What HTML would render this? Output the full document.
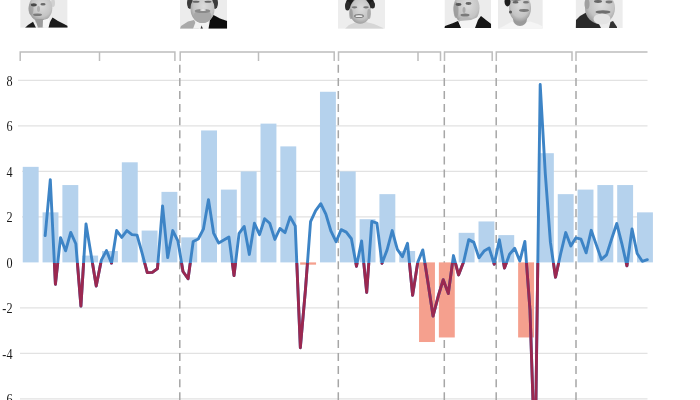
<!DOCTYPE html>
<html><head><meta charset="utf-8"><style>
html,body{margin:0;padding:0;background:#fff;}
body{width:700px;height:400px;overflow:hidden;position:relative;font-family:"Liberation Sans",sans-serif;}
svg{position:absolute;left:0;top:0;filter:blur(0.4px);}
</style></head><body>
<svg width="700" height="400" viewBox="0 0 700 400">
<defs>
<clipPath id="above"><rect x="0" y="0" width="700" height="262.40"/></clipPath>
<clipPath id="below"><rect x="0" y="262.90" width="700" height="137.60"/></clipPath>
</defs>

<line x1="18" x2="647.5" y1="80.40" y2="80.40" stroke="#e2e2e2" stroke-width="1.1"/>
<line x1="18" x2="647.5" y1="125.90" y2="125.90" stroke="#e2e2e2" stroke-width="1.1"/>
<line x1="22" x2="647.5" y1="171.40" y2="171.40" stroke="#e2e2e2" stroke-width="1.1"/>
<line x1="22" x2="647.5" y1="216.90" y2="216.90" stroke="#e2e2e2" stroke-width="1.1"/>
<line x1="20" x2="647.5" y1="307.90" y2="307.90" stroke="#e2e2e2" stroke-width="1.1"/>
<line x1="20" x2="647.5" y1="353.40" y2="353.40" stroke="#e2e2e2" stroke-width="1.1"/>
<line x1="20" x2="647.5" y1="398.90" y2="398.90" stroke="#e2e2e2" stroke-width="1.1"/>
<text transform="translate(12.5 85.90) scale(0.87 1)" text-anchor="end" font-size="14" fill="#1a1a1a" font-family="Liberation Serif, serif">8</text>
<text transform="translate(12.5 131.40) scale(0.87 1)" text-anchor="end" font-size="14" fill="#1a1a1a" font-family="Liberation Serif, serif">6</text>
<text transform="translate(12.5 176.90) scale(0.87 1)" text-anchor="end" font-size="14" fill="#1a1a1a" font-family="Liberation Serif, serif">4</text>
<text transform="translate(12.5 222.40) scale(0.87 1)" text-anchor="end" font-size="14" fill="#1a1a1a" font-family="Liberation Serif, serif">2</text>
<text transform="translate(12.5 267.90) scale(0.87 1)" text-anchor="end" font-size="14" fill="#1a1a1a" font-family="Liberation Serif, serif">0</text>
<text transform="translate(12.5 313.40) scale(0.87 1)" text-anchor="end" font-size="14" fill="#1a1a1a" font-family="Liberation Serif, serif">-2</text>
<text transform="translate(12.5 358.90) scale(0.87 1)" text-anchor="end" font-size="14" fill="#1a1a1a" font-family="Liberation Serif, serif">-4</text>
<text transform="translate(12.5 404.40) scale(0.87 1)" text-anchor="end" font-size="14" fill="#1a1a1a" font-family="Liberation Serif, serif">-6</text>
<line x1="179.8" x2="179.8" y1="64.8" y2="400" stroke="#a6a6a6" stroke-width="1.5" stroke-dasharray="8 5.1"/>
<line x1="338.3" x2="338.3" y1="64.8" y2="400" stroke="#a6a6a6" stroke-width="1.5" stroke-dasharray="8 5.1"/>
<line x1="444.3" x2="444.3" y1="64.8" y2="400" stroke="#a6a6a6" stroke-width="1.5" stroke-dasharray="8 5.1"/>
<line x1="496.2" x2="496.2" y1="64.8" y2="400" stroke="#a6a6a6" stroke-width="1.5" stroke-dasharray="8 5.1"/>
<line x1="576.0" x2="576.0" y1="64.8" y2="400" stroke="#a6a6a6" stroke-width="1.5" stroke-dasharray="8 5.1"/>
<rect x="22.75" y="166.85" width="15.90" height="95.55" fill="#b5d2ed"/>
<rect x="42.56" y="212.35" width="15.90" height="50.05" fill="#b5d2ed"/>
<rect x="62.38" y="185.05" width="15.90" height="77.35" fill="#b5d2ed"/>
<rect x="82.20" y="255.57" width="15.90" height="6.82" fill="#b5d2ed"/>
<rect x="102.01" y="251.02" width="15.90" height="11.38" fill="#b5d2ed"/>
<rect x="121.83" y="162.30" width="15.90" height="100.10" fill="#b5d2ed"/>
<rect x="141.64" y="230.55" width="15.90" height="31.85" fill="#b5d2ed"/>
<rect x="161.46" y="191.87" width="15.90" height="70.53" fill="#b5d2ed"/>
<rect x="181.27" y="237.37" width="15.90" height="25.03" fill="#b5d2ed"/>
<rect x="201.09" y="130.45" width="15.90" height="131.95" fill="#b5d2ed"/>
<rect x="220.90" y="189.60" width="15.90" height="72.80" fill="#b5d2ed"/>
<rect x="240.72" y="171.40" width="15.90" height="91.00" fill="#b5d2ed"/>
<rect x="260.53" y="123.62" width="15.90" height="138.78" fill="#b5d2ed"/>
<rect x="280.35" y="146.38" width="15.90" height="116.02" fill="#b5d2ed"/>
<rect x="300.16" y="262.40" width="15.90" height="2.27" fill="#f5a08e"/>
<rect x="319.98" y="91.77" width="15.90" height="170.62" fill="#b5d2ed"/>
<rect x="339.79" y="171.40" width="15.90" height="91.00" fill="#b5d2ed"/>
<rect x="359.61" y="219.17" width="15.90" height="43.22" fill="#b5d2ed"/>
<rect x="379.42" y="194.15" width="15.90" height="68.25" fill="#b5d2ed"/>
<rect x="399.24" y="251.02" width="15.90" height="11.38" fill="#b5d2ed"/>
<rect x="419.05" y="262.40" width="15.90" height="79.62" fill="#f5a08e"/>
<rect x="438.87" y="262.40" width="15.90" height="75.07" fill="#f5a08e"/>
<rect x="458.68" y="232.82" width="15.90" height="29.57" fill="#b5d2ed"/>
<rect x="478.50" y="221.45" width="15.90" height="40.95" fill="#b5d2ed"/>
<rect x="498.31" y="235.10" width="15.90" height="27.30" fill="#b5d2ed"/>
<rect x="518.12" y="262.40" width="15.90" height="75.07" fill="#f5a08e"/>
<rect x="537.94" y="153.20" width="15.90" height="109.20" fill="#b5d2ed"/>
<rect x="557.75" y="194.15" width="15.90" height="68.25" fill="#b5d2ed"/>
<rect x="577.57" y="189.60" width="15.90" height="72.80" fill="#b5d2ed"/>
<rect x="597.38" y="185.05" width="15.90" height="77.35" fill="#b5d2ed"/>
<rect x="617.20" y="185.05" width="15.90" height="77.35" fill="#b5d2ed"/>
<rect x="637.01" y="212.35" width="15.90" height="50.05" fill="#b5d2ed"/>
<path d="M20.2,61 L20.2,52 L174.9,52 L174.9,61" fill="none" stroke="#bdbdbd" stroke-width="1.5"/><line x1="99.5" x2="99.5" y1="52" y2="61" stroke="#bdbdbd" stroke-width="1.5"/>
<path d="M180.2,61 L180.2,52 L334.2,52 L334.2,61" fill="none" stroke="#bdbdbd" stroke-width="1.5"/><line x1="258.5" x2="258.5" y1="52" y2="61" stroke="#bdbdbd" stroke-width="1.5"/>
<path d="M338.5,61 L338.5,52 L440.5,52 L440.5,61" fill="none" stroke="#bdbdbd" stroke-width="1.5"/><line x1="418.0" x2="418.0" y1="52" y2="61" stroke="#bdbdbd" stroke-width="1.5"/>
<path d="M444.5,61 L444.5,52 L492.2,52 L492.2,61" fill="none" stroke="#bdbdbd" stroke-width="1.5"/>
<path d="M496.3,61 L496.3,52 L572.0,52 L572.0,61" fill="none" stroke="#bdbdbd" stroke-width="1.5"/>
<path d="M576.0,61 L576.0,52 L647.5,52" fill="none" stroke="#bdbdbd" stroke-width="1.5"/>
<polyline points="45.20,235.55 50.30,179.59 55.41,284.24 60.51,237.60 65.61,250.80 70.72,232.37 75.82,243.74 80.92,306.08 86.02,223.95 91.13,254.89 96.23,286.06 101.33,260.12 106.44,250.57 111.54,263.08 116.64,230.55 121.75,237.37 126.85,230.55 131.95,234.64 137.05,235.10 142.16,253.30 147.26,272.64 152.36,272.41 157.47,268.54 162.57,205.98 167.67,257.62 172.77,230.55 177.88,240.79 182.98,271.50 188.08,278.78 193.19,241.47 198.29,238.97 203.39,229.18 208.50,199.61 213.60,233.05 218.70,243.06 223.81,240.10 228.91,236.92 234.01,275.59 239.11,233.28 244.22,226.45 249.32,254.44 254.42,223.27 259.53,234.64 264.63,218.72 269.73,223.27 274.83,239.42 279.94,228.50 285.04,232.60 290.14,216.90 295.25,226.00 300.35,347.71 305.45,289.70 310.56,221.68 315.66,210.53 320.76,203.70 325.86,214.17 330.97,231.23 336.07,241.70 341.17,229.64 346.28,232.14 351.38,238.74 356.48,266.27 361.59,241.01 366.69,292.43 371.79,221.45 376.89,223.04 382.00,263.31 387.10,249.89 392.20,230.55 397.31,249.43 402.41,256.71 407.51,243.29 412.62,295.39 417.72,262.40 422.82,249.89 427.92,282.19 433.03,316.09 438.13,296.52 443.23,279.69 448.34,293.57 453.44,255.57 458.54,274.91 463.65,261.72 468.75,239.65 473.85,242.38 478.95,257.85 484.06,251.02 489.16,248.07 494.26,264.22 499.37,239.65 504.47,268.09 509.57,254.21 514.68,248.29 519.78,261.03 524.88,241.47 529.99,310.17 535.09,464.88 540.19,84.49 545.29,173.67 550.40,242.15 555.50,277.19 560.60,253.98 565.71,232.60 570.81,246.02 575.91,237.83 581.01,239.19 586.12,252.84 591.22,230.32 596.32,244.88 601.43,259.44 606.53,254.89 611.63,238.97 616.74,223.50 621.84,243.52 626.94,265.81 632.05,228.96 637.15,253.53 642.25,261.26 647.35,259.67" fill="none" stroke="#3d84c6" stroke-width="2.9" stroke-linejoin="round" stroke-linecap="round"/>
<polyline points="45.20,235.55 50.30,179.59 55.41,284.24 60.51,237.60 65.61,250.80 70.72,232.37 75.82,243.74 80.92,306.08 86.02,223.95 91.13,254.89 96.23,286.06 101.33,260.12 106.44,250.57 111.54,263.08 116.64,230.55 121.75,237.37 126.85,230.55 131.95,234.64 137.05,235.10 142.16,253.30 147.26,272.64 152.36,272.41 157.47,268.54 162.57,205.98 167.67,257.62 172.77,230.55 177.88,240.79 182.98,271.50 188.08,278.78 193.19,241.47 198.29,238.97 203.39,229.18 208.50,199.61 213.60,233.05 218.70,243.06 223.81,240.10 228.91,236.92 234.01,275.59 239.11,233.28 244.22,226.45 249.32,254.44 254.42,223.27 259.53,234.64 264.63,218.72 269.73,223.27 274.83,239.42 279.94,228.50 285.04,232.60 290.14,216.90 295.25,226.00 300.35,347.71 305.45,289.70 310.56,221.68 315.66,210.53 320.76,203.70 325.86,214.17 330.97,231.23 336.07,241.70 341.17,229.64 346.28,232.14 351.38,238.74 356.48,266.27 361.59,241.01 366.69,292.43 371.79,221.45 376.89,223.04 382.00,263.31 387.10,249.89 392.20,230.55 397.31,249.43 402.41,256.71 407.51,243.29 412.62,295.39 417.72,262.40 422.82,249.89 427.92,282.19 433.03,316.09 438.13,296.52 443.23,279.69 448.34,293.57 453.44,255.57 458.54,274.91 463.65,261.72 468.75,239.65 473.85,242.38 478.95,257.85 484.06,251.02 489.16,248.07 494.26,264.22 499.37,239.65 504.47,268.09 509.57,254.21 514.68,248.29 519.78,261.03 524.88,241.47 529.99,310.17 535.09,464.88 540.19,84.49 545.29,173.67 550.40,242.15 555.50,277.19 560.60,253.98 565.71,232.60 570.81,246.02 575.91,237.83 581.01,239.19 586.12,252.84 591.22,230.32 596.32,244.88 601.43,259.44 606.53,254.89 611.63,238.97 616.74,223.50 621.84,243.52 626.94,265.81 632.05,228.96 637.15,253.53 642.25,261.26 647.35,259.67" fill="none" stroke="#9b2850" stroke-width="2.9" stroke-linejoin="round" stroke-linecap="round" clip-path="url(#below)"/>
<filter id="bl" x="-10%" y="-10%" width="120%" height="120%"><feGaussianBlur stdDeviation="0.7"/></filter>
<radialGradient id="face" cx="0.55" cy="0.4" r="0.6"><stop offset="0" stop-color="#dcdcdc"/><stop offset="0.7" stop-color="#c4c4c4"/><stop offset="1" stop-color="#9e9e9e"/></radialGradient>
<radialGradient id="faceD" cx="0.5" cy="0.4" r="0.6"><stop offset="0" stop-color="#dadada"/><stop offset="0.7" stop-color="#c4c4c4"/><stop offset="1" stop-color="#9c9c9c"/></radialGradient>
<clipPath id="c1"><rect x="20.2" y="0" width="47.4" height="27.8"/></clipPath>
<g clip-path="url(#c1)"><rect x="20.2" y="0" width="47.4" height="27.8" fill="#ebebeb"/>
<g filter="url(#bl)">
<ellipse cx="53" cy="3" rx="2" ry="4" fill="#d0d0d0"/>
<ellipse cx="40.5" cy="15" rx="6" ry="9" fill="#a0a0a0"/>
<ellipse cx="40.5" cy="8" rx="11.8" ry="13.5" fill="url(#face)"/>
<ellipse cx="31" cy="9" rx="2.5" ry="6" fill="#9a9a9a" opacity="0.7"/>
<ellipse cx="33.8" cy="4.8" rx="3" ry="1.6" fill="#4a4a4a"/>
<ellipse cx="43" cy="4.2" rx="2.6" ry="1.2" fill="#6a6a6a"/>
<ellipse cx="38.5" cy="9" rx="1.5" ry="3" fill="#b0b0b0"/>
<ellipse cx="37.5" cy="14.8" rx="4.5" ry="1.3" fill="#7a7a7a"/>
<polygon points="35,19 44,19 43.5,27.8 37,27.8" fill="#9c9c9c"/>
<polygon points="42.7,27.8 43,20 49,18.5 50,27.8" fill="#f6f6f6"/>
<polygon points="34,27.8 36,22 38,27.8" fill="#f0f0f0"/>
<polygon points="25,27.8 28,25 33,21.7 36,27.8" fill="#1e1e1e"/>
<polygon points="48.5,27.8 50,22 52.5,17.6 58,21 64,24 67.8,26 67.8,27.8" fill="#1a1a1a"/>
</g></g>
<clipPath id="c2"><rect x="180" y="0" width="47.2" height="28.8"/></clipPath>
<g clip-path="url(#c2)"><rect x="180" y="0" width="47.2" height="28.8" fill="#ececec"/>
<g filter="url(#bl)">
<polygon points="180,28.8 181,26 188,21.5 194,20 199,28.8" fill="#a9a9a9"/>
<polygon points="193,28.8 196,21 207,20 210,28.8" fill="#f2f2f2"/>
<polygon points="200.5,28.8 201.5,25.5 203,28.8" fill="#333"/>
<polygon points="208.5,28.8 210,20 213.5,15 220,18.5 227.2,21 227.2,28.8" fill="#111"/>
<ellipse cx="190" cy="3" rx="3" ry="6" fill="#3a3a3a"/>
<ellipse cx="215" cy="3" rx="3" ry="6" fill="#3a3a3a"/>
<ellipse cx="202.5" cy="9" rx="12" ry="14" fill="url(#face)"/>
<ellipse cx="202.5" cy="16" rx="9" ry="7" fill="#a8a8a8"/>
<ellipse cx="202.5" cy="11" rx="8" ry="2" fill="#8a8a8a"/>
<ellipse cx="203" cy="10" rx="3" ry="1" fill="#e8e8e8"/>
<ellipse cx="196" cy="1.8" rx="3.5" ry="1" fill="#666"/>
<ellipse cx="208" cy="1.8" rx="3.5" ry="1" fill="#666"/>
</g></g>
<clipPath id="c3"><rect x="338" y="0" width="47.2" height="28.8"/></clipPath>
<g clip-path="url(#c3)"><rect x="338" y="0" width="47.2" height="28.8" fill="#ededed"/>
<g filter="url(#bl)">
<polygon points="345,28.8 349,25 356,22 366,22 374,24 382,27.5 384,28.8" fill="#d6d6d6"/>
<ellipse cx="360" cy="3" rx="14" ry="8" fill="#1e1e1e"/>
<ellipse cx="347.5" cy="6" rx="2.5" ry="4.5" fill="#2a2a2a"/>
<ellipse cx="372.5" cy="5" rx="2.5" ry="3.5" fill="#2a2a2a"/>
<ellipse cx="360.2" cy="11" rx="10.6" ry="12.8" fill="url(#face)"/>
<ellipse cx="354.5" cy="7.3" rx="2.8" ry="1.1" fill="#777"/>
<ellipse cx="366" cy="7.3" rx="2.8" ry="1.1" fill="#777"/>
<ellipse cx="359" cy="16" rx="5" ry="2" fill="#808080"/>
<ellipse cx="359" cy="16.2" rx="3.5" ry="0.9" fill="#eeeeee"/>
<ellipse cx="351" cy="14" rx="1.8" ry="5" fill="#9a9a9a" opacity="0.8"/>
<ellipse cx="369" cy="14" rx="1.8" ry="5" fill="#a5a5a5" opacity="0.8"/>
</g></g>
<clipPath id="c4"><rect x="444.5" y="0" width="46.7" height="28"/></clipPath>
<g clip-path="url(#c4)"><rect x="444.5" y="0" width="46.7" height="28" fill="#ececec"/>
<g filter="url(#bl)">
<ellipse cx="466.5" cy="8" rx="13" ry="16" fill="url(#face)"/>
<ellipse cx="456" cy="10" rx="2.5" ry="8" fill="#9a9a9a" opacity="0.8"/>
<ellipse cx="458.5" cy="4.5" rx="3" ry="1.4" fill="#555"/>
<ellipse cx="468.5" cy="3.5" rx="3" ry="1.4" fill="#666"/>
<ellipse cx="464" cy="10" rx="1.5" ry="3" fill="#aaa"/>
<ellipse cx="465" cy="15" rx="4.5" ry="1.5" fill="#7a7a7a"/>
<ellipse cx="466" cy="20" rx="7" ry="3" fill="#b8b8b8"/>
<polygon points="458,28 460,21 471,20 478,17 477,28" fill="#f4f4f4"/>
<polygon points="444,28 445,26 452,23.5 458,21 461,28" fill="#121212"/>
<polygon points="475,28 478,20 481,16 486,20 491.2,24 491.2,28" fill="#121212"/>
</g></g>
<clipPath id="c5"><rect x="497.8" y="0" width="45" height="28.8"/></clipPath>
<g clip-path="url(#c5)"><rect x="497.8" y="0" width="45" height="28.8" fill="#ebebeb"/>
<g filter="url(#bl)">
<polygon points="498,28.8 502,27 512,21.5 520,23 530,21.5 538,24 542.8,26.5 542.8,28.8" fill="#f5f5f5"/>
<ellipse cx="520" cy="19" rx="7" ry="7" fill="#9a9a9a"/>
<ellipse cx="520" cy="8" rx="11" ry="14" fill="url(#faceD)"/>
<ellipse cx="507.5" cy="1.5" rx="3" ry="5" fill="#1e1e1e"/>
<ellipse cx="516" cy="-0.5" rx="6" ry="1.2" fill="#555"/>
<ellipse cx="515.5" cy="2.2" rx="3" ry="1.2" fill="#666"/>
<ellipse cx="526" cy="2.2" rx="3" ry="1.2" fill="#777"/>
<ellipse cx="524" cy="10.5" rx="5" ry="1.4" fill="#7a7a7a"/>
<ellipse cx="510.5" cy="12" rx="1.5" ry="1.5" fill="#555"/>
</g></g>
<clipPath id="c6"><rect x="575.6" y="0" width="47.2" height="28"/></clipPath>
<g clip-path="url(#c6)"><rect x="575.6" y="0" width="47.2" height="28" fill="#ececec"/>
<g filter="url(#bl)">
<polygon points="575.6,28 576,20 580,16 587,12 594,18 599,24 601,28" fill="#2c2c2c"/>
<polygon points="609,28 610.5,22 613,21 617,27 617,28" fill="#333"/>
<ellipse cx="600" cy="8" rx="15" ry="16" fill="url(#face)"/>
<ellipse cx="587" cy="4" rx="2.5" ry="5" fill="#a0a0a0"/>
<ellipse cx="598" cy="1.5" rx="4" ry="1.4" fill="#666"/>
<ellipse cx="609" cy="2" rx="3.5" ry="1.4" fill="#777"/>
<ellipse cx="603" cy="12" rx="7.5" ry="1.8" fill="#6e6e6e"/>
<ellipse cx="602" cy="19" rx="8.5" ry="5.5" fill="#e4e4e4"/>
</g></g>
</svg>
</body></html>
